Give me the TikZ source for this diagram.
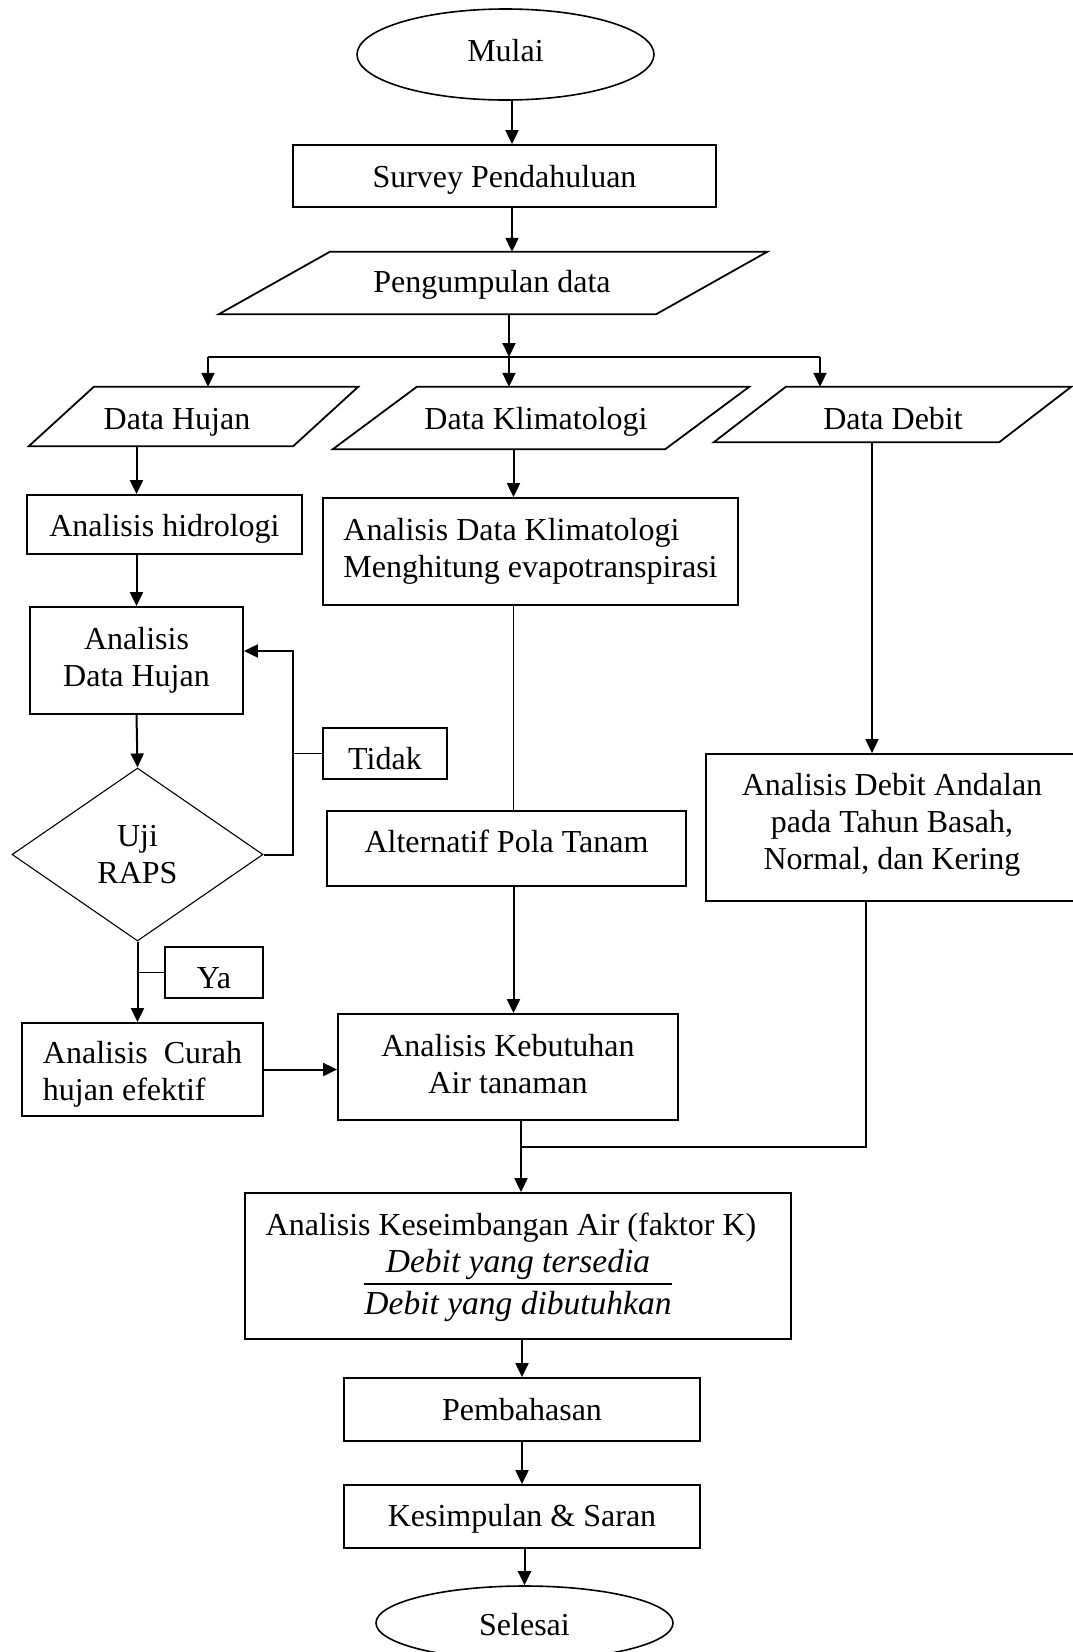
\documentclass[tikz,border=0pt]{standalone}
\usepackage{fontspec}
\setmainfont{Liberation Serif}
\usetikzlibrary{arrows.meta,shapes.geometric,calc}
\begin{document}
\begin{tikzpicture}[x=1pt,y=-1pt,
  font=\fontsize{32}{37}\selectfont,
  box/.style={draw,line width=1.8pt,rectangle,inner sep=0pt,align=center},
  databox/.style={draw=none,rectangle,inner sep=0pt},
  shp/.style={draw,line width=1.8pt,line join=miter},
  term/.style={draw,ellipse,line width=1.6pt,inner sep=0pt},
  arr/.style={line width=2pt,-{Triangle[length=14pt,width=13pt]}},
  ln/.style={line width=1.6pt},
  lnthin/.style={line width=1.1pt},
  frac/.style={inner sep=0pt,font=\fontsize{33.5}{37}\selectfont\itshape}]
\useasboundingbox (0,0) rectangle (1072,1652);

% terminals and process boxes
\node[term,minimum width=297pt,minimum height=91pt,label={[yshift=4pt]center:Mulai}] (mulai) at (505.5,54.5) {};
\node[box,minimum width=423pt,minimum height=62pt,label={[yshift=-4pt]center:Survey Pendahuluan}] (survey) at (504.5,176) {};

% data (parallelograms)
\node[databox,minimum width=437pt,minimum height=62pt,label={[xshift=-1pt,yshift=-2pt]center:Pengumpulan data}] (kumpul) at (493,283) {};
\draw[shp] ([xshift=55.5pt]kumpul.north west) -- ([xshift=55.5pt]kumpul.north east) -- ([xshift=-55.5pt]kumpul.south east) -- ([xshift=-55.5pt]kumpul.south west) -- cycle;

\node[databox,minimum width=264pt,minimum height=59pt,label={[xshift=-16.5pt,yshift=-5.5pt]center:Data Hujan}] (hujan) at (193.5,416.5) {};
\draw[shp] ([xshift=32.5pt]hujan.north west) -- ([xshift=32.5pt]hujan.north east) -- ([xshift=-32.5pt]hujan.south east) -- ([xshift=-32.5pt]hujan.south west) -- cycle;

\node[databox,minimum width=332pt,minimum height=62pt,label={[xshift=-5pt,yshift=-4pt]center:Data Klimatologi}] (klim) at (541,418) {};
\draw[shp] ([xshift=42pt]klim.north west) -- ([xshift=42pt]klim.north east) -- ([xshift=-42pt]klim.south east) -- ([xshift=-42pt]klim.south west) -- cycle;

\node[databox,minimum width=285pt,minimum height=55pt,label={[xshift=0.5pt,yshift=-4.5pt]center:Data Debit}] (debit) at (892.5,414.5) {};
\draw[shp] ([xshift=36pt]debit.north west) -- ([xshift=36pt]debit.north east) -- ([xshift=-36pt]debit.south east) -- ([xshift=-36pt]debit.south west) -- cycle;

% left column
\node[box,minimum width=275pt,minimum height=59pt,label={[yshift=-4pt]center:Analisis hidrologi}] (hidro) at (164.5,524.5) {};
\node[box,minimum width=213pt,minimum height=107pt] (adh) at (136.5,660.5) {Analisis\\Data Hujan};
\node[draw,diamond,line width=1.1pt,minimum width=251pt,minimum height=173pt,inner sep=0pt,align=center] (raps) at (137.5,854.5) {Uji\\RAPS};
\node[box,minimum width=124pt,minimum height=51pt,label={[yshift=-5pt]center:Tidak}] (tidak) at (385,753.5) {};
\node[box,minimum width=98pt,minimum height=51pt,label={[yshift=-6pt]center:Ya}] (ya) at (214,972.5) {};
\node[box,minimum width=241pt,minimum height=93pt,label={[align=left,yshift=-4.5pt]center:{Analisis\hspace{8pt} Curah\\hujan efektif}}] (curah) at (142.5,1069.5) {};

% middle column
\node[box,minimum width=415pt,minimum height=107pt,align=left] (aklim) at (530.5,551.5) {Analisis Data Klimatologi\\Menghitung evapotranspirasi};
\node[box,minimum width=359pt,minimum height=75pt,label={[yshift=7pt]center:Alternatif Pola Tanam}] (alt) at (506.5,848.5) {};
\node[box,minimum width=340pt,minimum height=106pt,label={[align=center,yshift=3pt]center:{Analisis Kebutuhan\\Air tanaman}}] (keb) at (508,1067) {};

% right column
\node[box,minimum width=372pt,minimum height=147pt,label={[align=center,yshift=3pt]center:{Analisis Debit Andalan\\pada Tahun Basah,\\Normal, dan Kering}}] (adeb) at (892,827.5) {};

% water balance
\node[box,minimum width=546pt,minimum height=146pt] (kes) at (518,1266) {};
\node[inner sep=0pt] (kest) at (511,1228) {Analisis Keseimbangan Air (faktor K)};
\node[frac] (knum) at (518,1264) {Debit yang tersedia};
\node[frac] (kden) at (518,1306) {Debit yang dibutuhkan};
\coordinate (fbar) at (0,1284);
\draw[line width=1.8pt] (kden.west |- fbar) -- (kden.east |- fbar);

\node[box,minimum width=356pt,minimum height=63pt] (pemb) at (522,1409.5) {Pembahasan};
\node[box,minimum width=356pt,minimum height=63pt,label={[yshift=-2pt]center:Kesimpulan \& Saran}] (kesim) at (522,1516.5) {};
\node[term,minimum width=297pt,minimum height=74pt,label={[yshift=-2pt]center:Selesai}] (selesai) at (524.5,1623) {};

% helper coordinates
\coordinate (colA) at (512,0);
\coordinate (split) at (509,357);
\coordinate (splitL) at (208,357);
\coordinate (splitR) at (820,357);
\coordinate (colB) at (513.5,0);
\coordinate (colD) at (872,0);
\coordinate (colM) at (521,0);
\coordinate (merge) at (866,1147);
\coordinate (lp) at (293,651);

% connectors
\draw[arr] (mulai.south -| colA) -- (survey.north -| colA);
\draw[arr] (survey.south -| colA) -- (kumpul.north -| colA);
\draw[arr] (kumpul.south -| split) -- (split);
\draw[ln] (splitL) -- (splitR);
\draw[arr] (split) -- (klim.north -| split);
\draw[arr] (splitL) -- (hujan.north -| splitL);
\draw[arr] (splitR) -- (debit.north -| splitR);

\draw[arr] (hujan.south -| adh.north) -- (hidro.north -| adh.north);
\draw[arr] (hidro.south -| adh.north) -- (adh.north);
\draw[arr] (adh.south) -- (raps.north);
\draw[arr] (raps.east) -| (lp) -- (lp -| adh.east);
\draw[lnthin] (tidak.west) -- (tidak.west -| lp);
\draw[arr] (raps.south) -- (curah.north -| raps.south);
\draw[lnthin] (ya.west) -- (ya.west -| raps.south);
\draw[arr] (curah.east) -- (curah.east -| keb.west);

\draw[arr] (klim.south -| colB) -- (aklim.north -| colB);
\draw[lnthin] (aklim.south -| colB) -- (alt.north -| colB);
\draw[arr] (alt.south -| colB) -- (keb.north -| colB);

\draw[arr,line width=1.3pt] (debit.south -| colD) -- (adeb.north -| colD);
\draw[ln] (adeb.south -| merge) -- (merge) -- (merge -| colM);
\draw[arr] (keb.south -| colM) -- (kes.north -| colM);

\draw[arr] (kes.south -| pemb.north) -- (pemb.north);
\draw[arr] (pemb.south) -- (kesim.north);
\draw[arr] (kesim.south -| selesai.north) -- (selesai.north);
\end{tikzpicture}
\end{document}
